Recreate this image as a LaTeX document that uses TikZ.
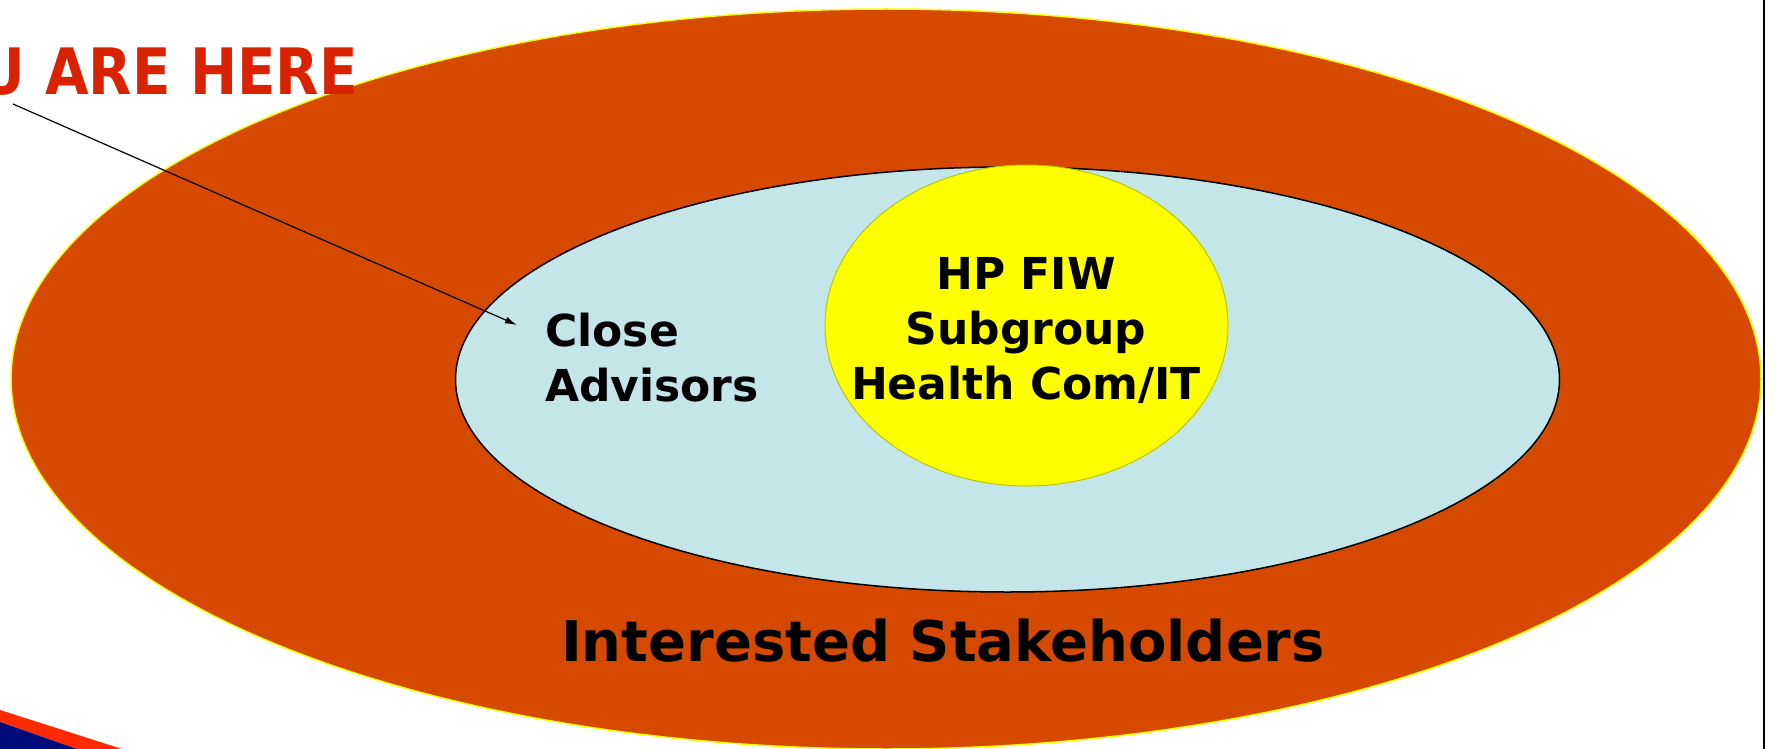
\documentclass[tikz,border=0pt]{standalone}
\usepackage{fontspec}
\setmainfont{DejaVu Sans}
\newfontfamily\herefont{DejaVu Sans}[FakeStretch=0.88]
\usetikzlibrary{shapes,arrows.meta}
\definecolor{sorange}{HTML}{D54A00}
\definecolor{sblue}{HTML}{C4E6E8}
\definecolor{syellow}{HTML}{FFFF00}
\definecolor{sgreen}{HTML}{B8C800}
\definecolor{sred}{HTML}{D92200}
\definecolor{sstripe}{HTML}{FF2A00}
\definecolor{snavy}{HTML}{000C7A}

\begin{document}
\begin{tikzpicture}[x=1pt, y=-1pt]
    \tikzset{ring/.style={
      ellipse,
      inner sep=0pt},
      lbl/.style={
      font=\bfseries\fontsize{44}{55}\selectfont,
      inner sep=0pt}}
    \useasboundingbox (0,0) rectangle (1773,749);
    \begin{scope}
    \clip (0,0) rectangle (1773,749);
    \node[ring, fill=sorange, draw=syellow, line width=1.5pt, minimum width=1750pt, minimum height=740pt] at (886, 379) (stake) {};
    \node[ring, fill=sblue, draw=black, line width=1.5pt, minimum width=1104pt, minimum height=425pt] at (1007.5, 379.5) (adv) {};
    \node[ring, fill=syellow, draw=sgreen, line width=1pt, minimum width=403pt, minimum height=321pt] at (1026.5, 325.5) (fiw) {};
    \node[lbl, align=center, anchor=north] at (1026, 257) (fiwtxt) {HP FIW\\Subgroup\\Health Com/IT};
    \node[lbl, align=left, anchor=north west] at (545, 313) (advtxt) {Close\\Advisors};
    \node[inner sep=0pt, anchor=base, font=\bfseries\fontsize{56}{60}\selectfont] at (943, 661) (staketxt) {Interested Stakeholders};
    \node[inner sep=0pt, anchor=base east, text=sred, font=\herefont\bfseries\fontsize{64}{70}\selectfont] at (358, 95) (youtxt) {YOU ARE HERE};
    \coordinate (here) at (13, 104);
    \coordinate (tip) at (517, 325);
    \draw[-{Latex[length=12pt, width=7pt]}, line width=1.2pt] (here) -- (tip);
    % slide corner
    \fill[sstripe] (0, 710) -- (122, 749) -- (77, 749) -- (0, 722) -- cycle;
    \fill[snavy] (0, 722) -- (77, 749) -- (0, 749) -- cycle;
    \draw[line width=1.5pt] (1764, 0) -- (1764, 749);
    \end{scope}
  \end{tikzpicture}
\end{document}
